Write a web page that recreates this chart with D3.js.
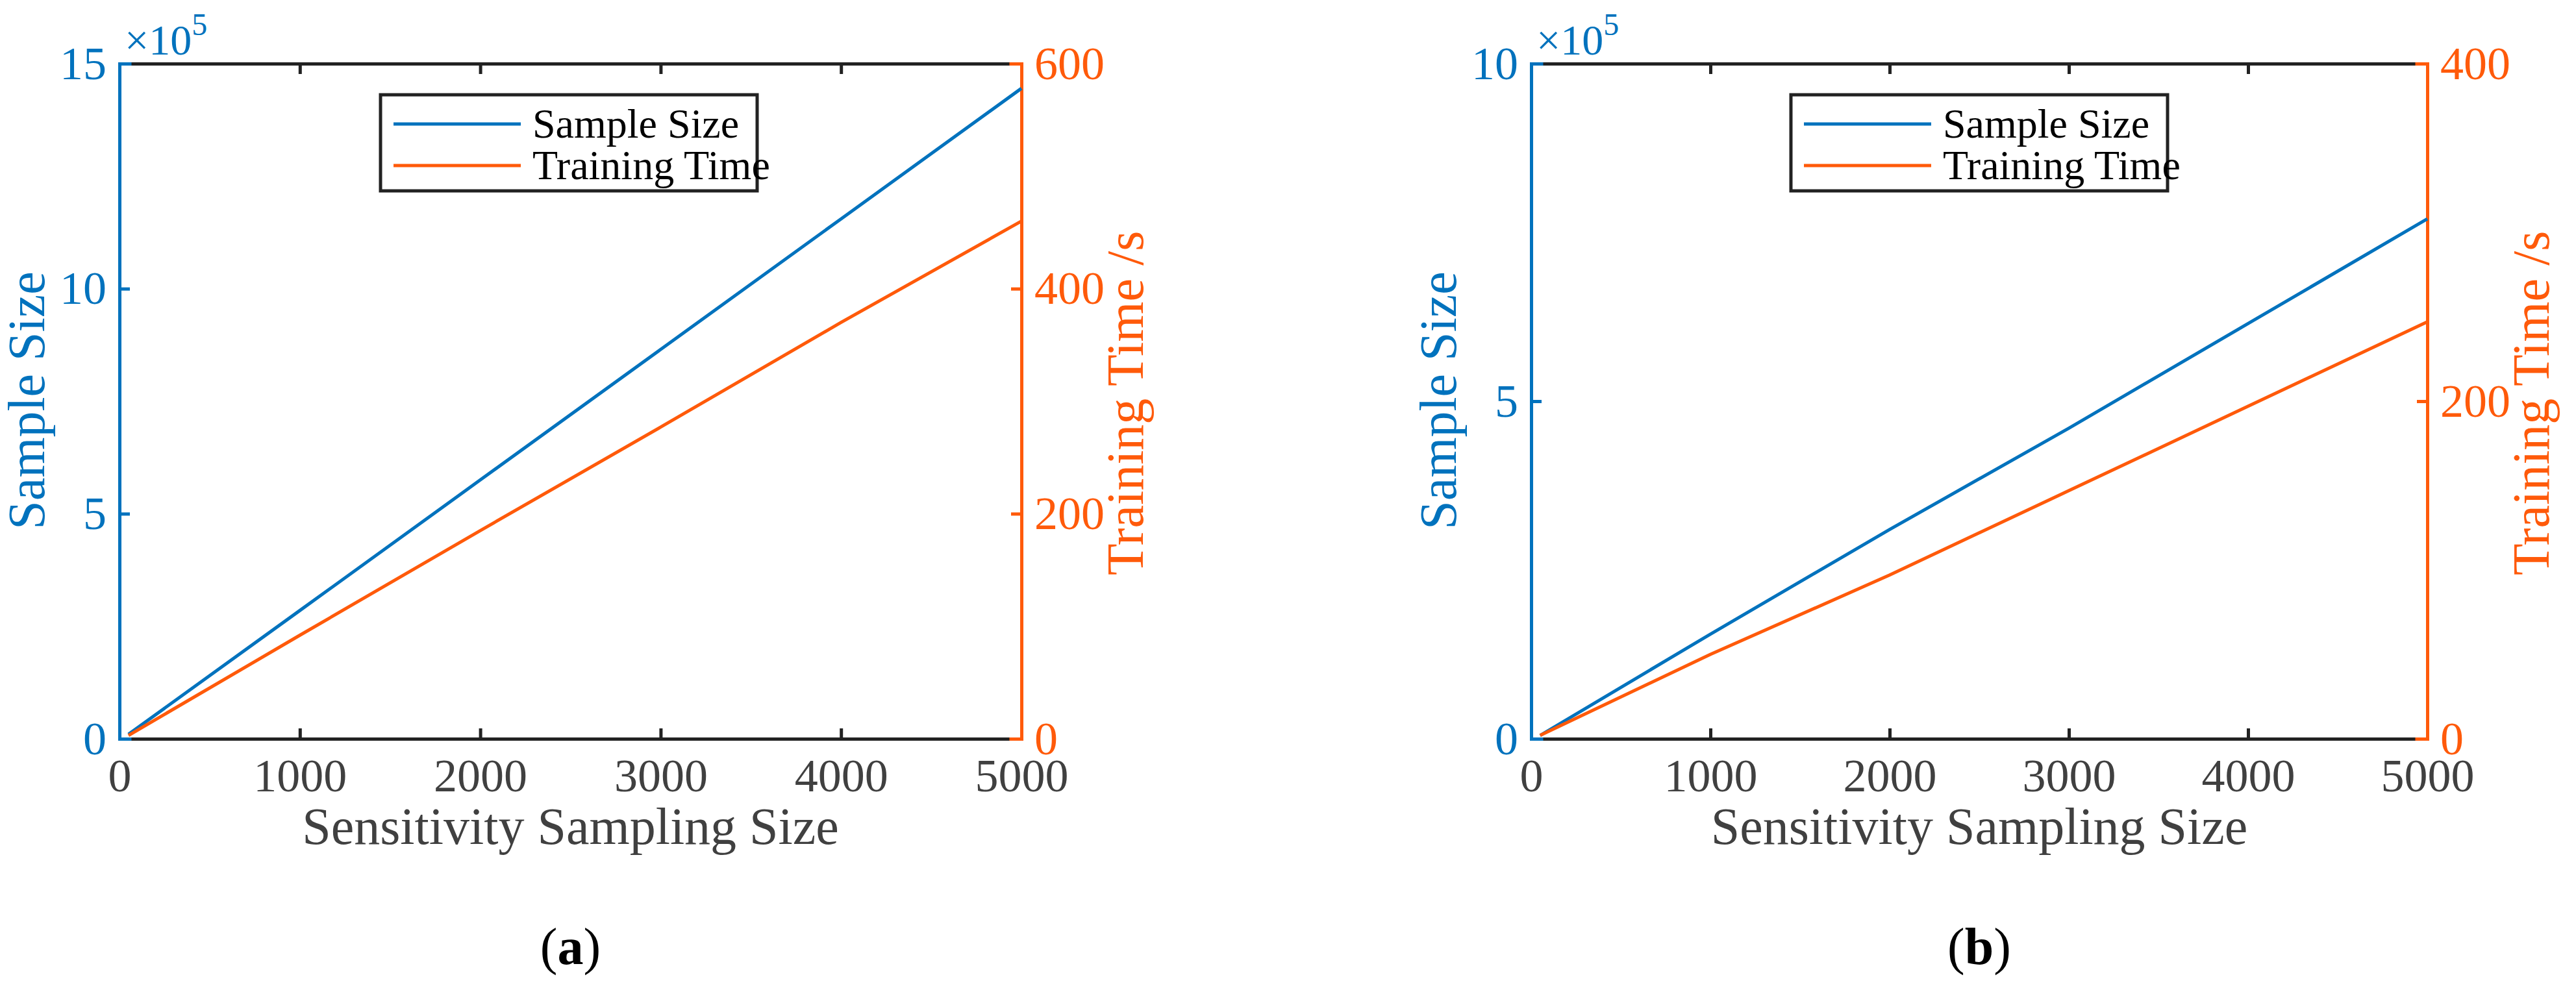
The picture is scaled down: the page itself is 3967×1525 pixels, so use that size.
<!DOCTYPE html>
<html>
<head>
<meta charset="utf-8">
<script src="https://cdn.jsdelivr.net/npm/d3@7"></script>
<style>
  body { margin: 0; background: #fff; }
  text { font-family: "Liberation Serif", "Times New Roman", serif; }
</style>
</head>
<body>
<div id="chart"></div>
<script>
// sampling sizes (x)
const sampling = [50, 1000, 2000, 3000, 4000, 5000];

// panel (a)
const sampleA = [10000, 285000, 575000, 865000, 1155000, 1445000];
const timeA = [3, 92, 185, 277, 370, 460];
// panel (b)
const sampleB = [5000, 155000, 310000, 460000, 615000, 770000];
const timeB = [2, 50, 97, 147, 197, 247];

const xTicks = [0, 1000, 2000, 3000, 4000, 5000];
const leftTicksA = [0, 5, 10, 15], rightTicksA = [0, 200, 400, 600];
const leftTicksB = [0, 5, 10], rightTicksB = [0, 200, 400];

const blue = "#0072BD", orange = "#FF5A0A", grey = "#404040";

const svg = d3.select("#chart").append("svg")
  .attr("width", 3967).attr("height", 1525);

function panel(left, right, sample, time, lMax, rMax, lTicks, rTicks, legX, label, yLabelX, rLabelX) {
  const top = 98, bottom = 1138;
  const x = d3.scaleLinear().domain([0, 5000]).range([left, right]);
  const yl = d3.scaleLinear().domain([0, lMax]).range([bottom, top]);
  const yr = d3.scaleLinear().domain([0, rMax]).range([bottom, top]);
  const g = svg.append("g");

  // x axis bottom and top
  const xb = g.append("g").attr("transform", `translate(0,${bottom})`)
    .call(d3.axisBottom(x).tickValues(xTicks).tickSize(-16).tickPadding(30).tickFormat(d3.format("d")));
  const xt = g.append("g").attr("transform", `translate(0,${top})`)
    .call(d3.axisTop(x).tickValues(xTicks).tickSize(-16).tickFormat(""));
  [xb, xt].forEach(a => {
    a.selectAll("path,line").attr("stroke", "#222").attr("stroke-width", 5);
  });
  xb.selectAll("text").attr("fill", grey).attr("font-size", 72).attr("dy", "0.71em");

  const ya = g.append("g").attr("transform", `translate(${left},0)`)
    .call(d3.axisLeft(yl).tickValues(lTicks.map(d => d * 1e5)).tickSize(-16).tickPadding(20).tickFormat(d => d / 1e5));
  ya.selectAll("path,line").attr("stroke", blue).attr("stroke-width", 5);
  ya.selectAll("text").attr("fill", blue).attr("font-size", 72);

  const yb = g.append("g").attr("transform", `translate(${right},0)`)
    .call(d3.axisRight(yr).tickValues(rTicks).tickSize(-16).tickPadding(20));
  yb.selectAll("path,line").attr("stroke", orange).attr("stroke-width", 5);
  yb.selectAll("text").attr("fill", orange).attr("font-size", 72);
  g.selectAll(".domain").attr("stroke-linecap", "square");

  // exponent
  const ex = g.append("text").attr("x", left + 8).attr("y", top - 14)
    .attr("fill", blue).attr("font-size", 66);
  ex.append("tspan").text("×10");
  ex.append("tspan").attr("dy", -30).attr("font-size", 48).text("5");

  // lines
  const lineL = d3.line().x((d, i) => x(sampling[i])).y(d => yl(d));
  const lineR = d3.line().x((d, i) => x(sampling[i])).y(d => yr(d));
  g.append("path").datum(sample).attr("d", lineL).attr("fill", "none").attr("stroke", blue).attr("stroke-width", 5);
  g.append("path").datum(time).attr("d", lineR).attr("fill", "none").attr("stroke", orange).attr("stroke-width", 5);

  // legend
  const lg = g.append("g").attr("transform", `translate(${legX},146)`);
  lg.append("rect").attr("width", 580).attr("height", 148).attr("fill", "#fff").attr("stroke", "#222").attr("stroke-width", 5);
  [["Sample Size", blue], ["Training Time", orange]].forEach(([t, c], i) => {
    const yy = 45 + i * 64;
    lg.append("line").attr("x1", 20).attr("x2", 216).attr("y1", yy).attr("y2", yy).attr("stroke", c).attr("stroke-width", 5);
    lg.append("text").attr("x", 234).attr("y", yy + 21).attr("font-size", 64).attr("fill", "#000").text(t);
  });

  // axis labels
  g.append("text").attr("x", (left + right) / 2).attr("y", 1300).attr("text-anchor", "middle")
    .attr("font-size", 80).attr("fill", grey).text("Sensitivity Sampling Size");
  g.append("text").attr("transform", `translate(${yLabelX},617) rotate(-90)`).attr("text-anchor", "middle")
    .attr("font-size", 80).attr("fill", blue).text("Sample Size");
  g.append("text").attr("transform", `translate(${rLabelX},621) rotate(-90)`).attr("text-anchor", "middle")
    .attr("font-size", 80).attr("fill", orange).text("Training Time /s");

  const lab = g.append("text").attr("x", (left + right) / 2).attr("y", 1485).attr("text-anchor", "middle")
    .attr("font-size", 80).attr("fill", "#000");
  lab.append("tspan").text("(");
  lab.append("tspan").attr("font-weight", "bold").text(label);
  lab.append("tspan").text(")");
}

panel(184, 1573, sampleA, timeA, 1500000, 600, leftTicksA, rightTicksA, 586, "a", 68, 1760);
panel(2358, 3738, sampleB, timeB, 1000000, 400, leftTicksB, rightTicksB, 2758, "b", 2242, 3925);
</script>
</body>
</html>
